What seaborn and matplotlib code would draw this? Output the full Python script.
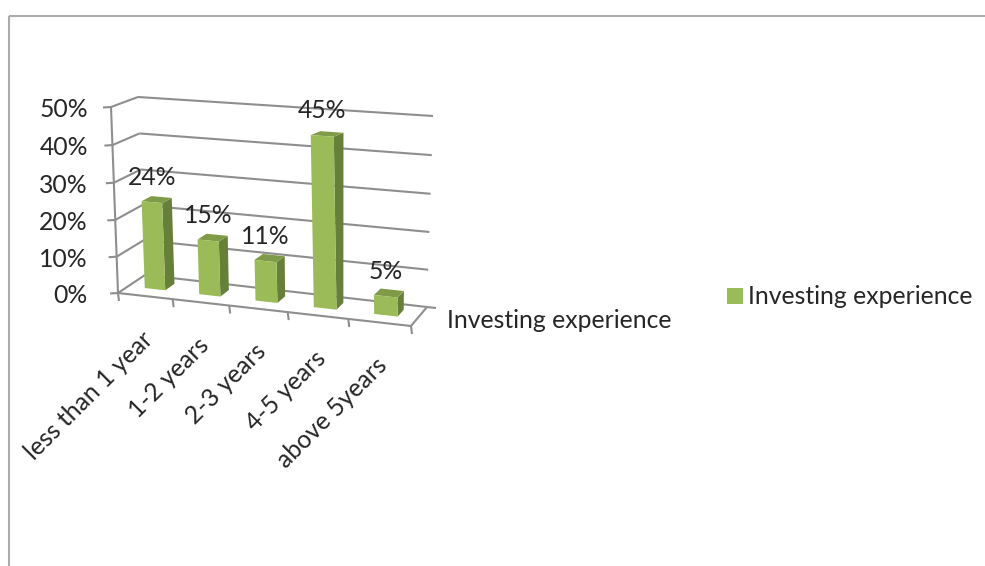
import numpy as np
import matplotlib
matplotlib.use("Agg")
import matplotlib.pyplot as plt
from matplotlib.patches import Patch, Polygon
from matplotlib.transforms import Transform
import pandas as pd
import seaborn as sns

categories = ["less than 1 year", "1-2 years", "2-3 years", "4-5 years", "above 5years"]
shares = [24, 15, 11, 45, 5]
value_ticks = [0, 10, 20, 30, 40, 50]
series_name = "Investing experience"

FRONT = "#9BBB59"
SIDE = "#66803A"
TOP = "#7F9B48"
GRID = "#8E8E8E"
FRAME = "#ABABAB"
INK = "#262626"
FONT = "Lato"
FS = 17.8

# Corners of the chart box in canvas pixels: (column side, depth, level)
BOX = {
    (0, 0, 0): (118, 293), (1, 0, 0): (411, 326),
    (0, 1, 0): (145, 275), (1, 1, 0): (427, 307),
    (0, 0, 1): (111, 107), (1, 0, 1): (405, 126),
    (0, 1, 1): (138, 97),  (1, 1, 1): (433, 116),
}
BOX = {k: np.array(v, float) for k, v in BOX.items()}
PERSPECTIVE = 0.09
HEIGHT_BOW = 0.03
BAR_NEAR, BAR_FAR = 0.38, 0.74
BAR_WIDTH = 0.38


def project(x, value, depth):
    """Map a category position, a percentage and a depth onto the canvas."""
    x, value = np.asarray(x, float), np.asarray(value, float)
    raw = (x + 0.5) / len(categories)
    u = raw / (1 + PERSPECTIVE * (1 - raw))
    level = value / value_ticks[-1]
    v = level * (1 - HEIGHT_BOW * (1 - level))
    out = 0
    for (a, b, c), p in BOX.items():
        wa = u if a else 1 - u
        wb = depth if b else 1 - depth
        wc = v if c else 1 - v
        out = out + np.asarray(wa * wb * wc)[..., None] * p
    return out


class DepthPlane(Transform):
    """Non-affine transform placing (category, percent) on a plane at fixed depth."""
    input_dims = output_dims = 2
    is_separable = False
    has_inverse = False

    def __init__(self, plane_depth):
        super().__init__()
        self.plane_depth = plane_depth

    def transform_non_affine(self, values):
        values = np.asarray(values, float)
        return project(values[:, 0], values[:, 1], self.plane_depth)


sns.set_theme(style="white")
plt.rcParams["font.family"] = [FONT, "DejaVu Sans"]

fig = plt.figure(figsize=(9.85, 5.66), dpi=100)
ax = fig.add_axes([0, 0, 1, 1])

frame = pd.DataFrame({"experience": categories, "share": shares})
sns.barplot(data=frame, x="experience", y="share", color=FRONT, saturation=1,
            width=BAR_WIDTH, errorbar=None, ax=ax, zorder=5)

ax.set_xlim(0, 985)
ax.set_ylim(566, 0)
ax.set_axis_off()


def segment(p, q, color=GRID, lw=1.5, zorder=1):
    ax.plot([p[0], q[0]], [p[1], q[1]], color=color, lw=lw, zorder=zorder,
            solid_capstyle="butt", clip_on=False)


# Walls: value gridlines run along the side wall, then along the back wall
left, right = -0.5, len(categories) - 0.5
for tick in value_ticks:
    near = project(left, tick, 0.0)
    corner = project(left, tick, 1.0)
    far = project(right, tick, 1.0)
    segment(near, corner)
    segment(corner, far)
    segment(near + np.array([-8, 0.5]), near)
    ax.text(88, near[1] + 2.5, f"{tick}%", ha="right", va="center",
            fontsize=FS, color=INK)
segment(project(left, 0, 0.0), project(left, value_ticks[-1], 0.0))

# Floor edges and category ticks
segment(project(left, 0, 0.0), project(right, 0, 0.0))
segment(project(right, 0, 0.0), project(right, 0, 1.0))
back = project(right, 0, 1.0)
segment(back, back + np.array([9, 1]))
for i in range(len(categories) + 1):
    p = project(left + i, 0, 0.0)
    segment(p, p + np.array([1, 8]))

# Category labels hang below the middle of each floor slot
for i, name in enumerate(categories):
    p = project(i, 0, 0.0)
    ax.text(p[0] - 4, p[1] + 31, name, rotation=45, rotation_mode="anchor",
            ha="right", va="top", fontsize=FS, color=INK)

# Seaborn's rectangles become the front faces; side and top faces share their geometry
near_plane = DepthPlane(BAR_NEAR) + ax.transData
for bar, share in zip(ax.patches, shares):
    bar.set_transform(near_plane)
    bar.set_clip_on(False)
    bar.set_edgecolor("none")
    x0, x1 = bar.get_x(), bar.get_x() + bar.get_width()
    side = [project(x1, 0, BAR_NEAR), project(x1, 0, BAR_FAR),
            project(x1, share, BAR_FAR), project(x1, share, BAR_NEAR)]
    cap = [project(x0, share, BAR_NEAR), project(x0, share, BAR_FAR),
           project(x1, share, BAR_FAR), project(x1, share, BAR_NEAR)]
    ax.add_patch(Polygon(side, closed=True, fc=SIDE, ec="none", zorder=4, clip_on=False))
    ax.add_patch(Polygon(cap, closed=True, fc=TOP, ec="none", zorder=4, clip_on=False))
    front_top = project((x0 + x1) / 2, share, BAR_NEAR)
    ax.text(front_top[0], front_top[1] - 25, f"{share}%", ha="center", va="center",
            fontsize=FS, color=INK, zorder=6)

# Depth-axis caption and legend
ax.text(447, 320, series_name, ha="left", va="center", fontsize=FS, color=INK)
ax.legend(handles=[Patch(fc=FRONT, ec="none", label=series_name)],
          loc="center left", bbox_to_anchor=(727 / 985, 1 - 297 / 566),
          frameon=False, fontsize=FS, labelcolor=INK, borderaxespad=0, borderpad=0,
          handlelength=0.65, handleheight=0.62, handletextpad=0.2)

# Outer chart border, open on the right and bottom
segment((9, 16), (985, 16), color=FRAME, lw=1.5)
segment((9, 16), (9, 566), color=FRAME, lw=1.5)

fig.savefig("out.png", dpi=100, facecolor="white")
